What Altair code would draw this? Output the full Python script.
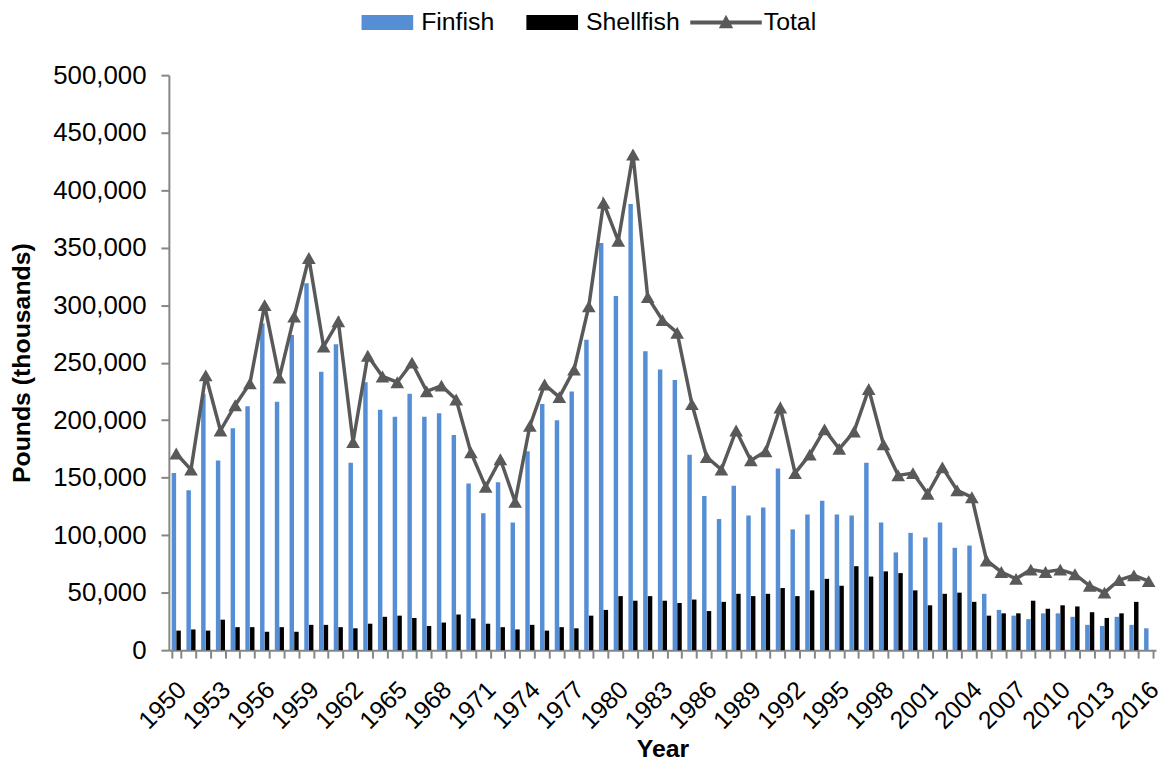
import altair as alt
import pandas as pd

years = list(range(1950, 2017))

finfish = [154000, 139000, 223000, 165000, 193000, 212000, 284000, 216000, 274000, 319000,
           242000, 266000, 163000, 233000, 209000, 203000, 223000, 203000, 206000, 187000,
           145000, 119000, 146000, 111000, 173000, 214000, 200000, 225000, 270000, 354000,
           308000, 388000, 260000, 244000, 235000, 170000, 134000, 114000, 143000, 117000,
           124000, 158000, 105000, 118000, 130000, 118000, 117000, 163000, 111000, 85000,
           102000, 98000, 111000, 89000, 91000, 49000, 35000, 30000, 27000, 32000,
           32000, 29000, 22000, 21000, 29000, 22000, 19000]

shellfish = [17000, 18000, 17000, 26500, 20000, 20000, 16000, 20000, 16000, 22000,
             22000, 20000, 19000, 23000, 29000, 30000, 28000, 21000, 24000, 31000,
             27500, 23000, 20000, 18000, 22000, 17000, 20000, 19000, 30000, 35000,
             47000, 43000, 47000, 43000, 41000, 44000, 34000, 42000, 49000, 47000,
             49000, 54000, 47000, 52000, 62000, 56000, 73000, 64000, 68500, 67000,
             52000, 39000, 49000, 50000, 42000, 30000, 32000, 32000, 43000, 36000,
             39000, 38000, 33000, 28000, 32000, 42000, None]

total = [171000, 157000, 239000, 191000, 213000, 232000, 300000, 237000, 290000, 341000,
         264000, 286000, 181000, 256000, 238000, 233000, 250000, 225000, 230000, 218000,
         172000, 142000, 166000, 129000, 195000, 231000, 220000, 244000, 299000, 389000,
         356000, 431000, 307000, 287000, 276000, 214000, 168000, 157000, 191000, 165000,
         173000, 211000, 154000, 170000, 192000, 175000, 190000, 227000, 179000, 152000,
         154000, 136000, 159000, 139000, 133000, 78000, 68000, 62000, 70000, 68000,
         70000, 66000, 56000, 50000, 61000, 65000, 60000]

bar_series = ["Finfish", "Shellfish"]
bar_colors = ["#558ED5", "#000000"]
total_color = "#595959"
y_ticks = [0, 50000, 100000, 150000, 200000, 250000, 300000, 350000, 400000, 450000, 500000]

bar_rows = []
for yr, f, s in zip(years, finfish, shellfish):
    bar_rows.append({"year": yr, "series": "Finfish", "value": f})
    if s is not None:
        bar_rows.append({"year": yr, "series": "Shellfish", "value": s})
bar_df = pd.DataFrame(bar_rows)
tot_df = pd.DataFrame({"year": years, "series": "Total", "value": total})

FONT = "Liberation Sans"
AX = "#868686"

BOX_PATH = "M-1,-0.29H1V0.29H-1Z"
TOT_PATH = "M-1,-0.055H1V0.055H-1Z M-0.2,0.16L0,-0.22L0.2,0.16Z"

x_enc = alt.X(
    "year:O", title="Year",
    scale=alt.Scale(paddingInner=0.38, paddingOuter=0.19),
    axis=alt.Axis(
        labelAngle=-45, labelOverlap=False,
        labelExpr="(datum.value - 1950) % 3 == 0 ? datum.label : ''",
        tickBand="extent", tickSize=8, tickWidth=2, tickColor=AX,
        domainColor=AX, domainWidth=2, labelPadding=19, labelOffset=-3,
        labelFontSize=25, labelFont=FONT, labelColor="#000000",
        titleFontSize=25, titleFont=FONT, titleFontWeight="bold", titleColor="#000000",
        titleY=107, titleBaseline="alphabetic",
    ),
)
y_enc = alt.Y(
    "value:Q", title="Pounds (thousands)",
    scale=alt.Scale(domain=[0, 500000], nice=False),
    axis=alt.Axis(
        values=y_ticks, format=",d", grid=False,
        tickSize=8, tickWidth=2, tickColor=AX, domainColor=AX, domainWidth=2,
        labelPadding=15, labelFontSize=26, labelFont=FONT, labelColor="#000000",
        titleFontSize=25, titleFont=FONT, titleFontWeight="bold", titleColor="#000000",
        titleX=-148, titleY=289.5, titleBaseline="middle",
    ),
)

bar_legend = alt.Legend(
    orient="none", legendX=194, legendY=-79, direction="horizontal", title=None,
    labelFontSize=25, labelFont=FONT, labelColor="#000000",
    symbolType=BOX_PATH, symbolSize=2704, symbolStrokeWidth=0,
    labelOffset=8, columnPadding=32, padding=0,
)
tot_legend = alt.Legend(
    orient="none", legendX=525, legendY=-89, direction="horizontal", title=None,
    labelFontSize=25, labelFont=FONT, labelColor="#000000",
    symbolSize=5184, symbolStrokeWidth=0, symbolFillColor=total_color,
    symbolOpacity=1, labelOffset=2, padding=0,
)

bars = alt.Chart(bar_df).mark_bar().encode(
    x=x_enc,
    xOffset=alt.XOffset("series:N", scale=alt.Scale(domain=bar_series, paddingInner=0.05)),
    y=y_enc,
    color=alt.Color("series:N", scale=alt.Scale(domain=bar_series, range=bar_colors),
                    legend=bar_legend),
)
line = alt.Chart(tot_df).mark_line(strokeWidth=3.5, color=total_color).encode(x=x_enc, y=y_enc)
pts = alt.Chart(tot_df).mark_point(
    shape="triangle-up", filled=True, size=190, opacity=1, color=total_color
).encode(x=x_enc, y=y_enc)

legend_only = alt.Chart(tot_df).transform_filter("false").mark_point(
    filled=True, opacity=1, color=total_color
).encode(
    x=x_enc, y=y_enc,
    shape=alt.Shape("series:N", scale=alt.Scale(domain=["Total"], range=[TOT_PATH]),
                    legend=tot_legend),
)

chart = alt.layer(bars, line, pts, legend_only).properties(
    width=994, height=579,
    padding={"left": 162, "top": 65, "right": 3, "bottom": 110},
    autosize=alt.AutoSizeParams(type="none"),
    background="white",
).configure_view(stroke=None)

chart.save("out.html", embed_options={"renderer": "svg", "actions": False})
